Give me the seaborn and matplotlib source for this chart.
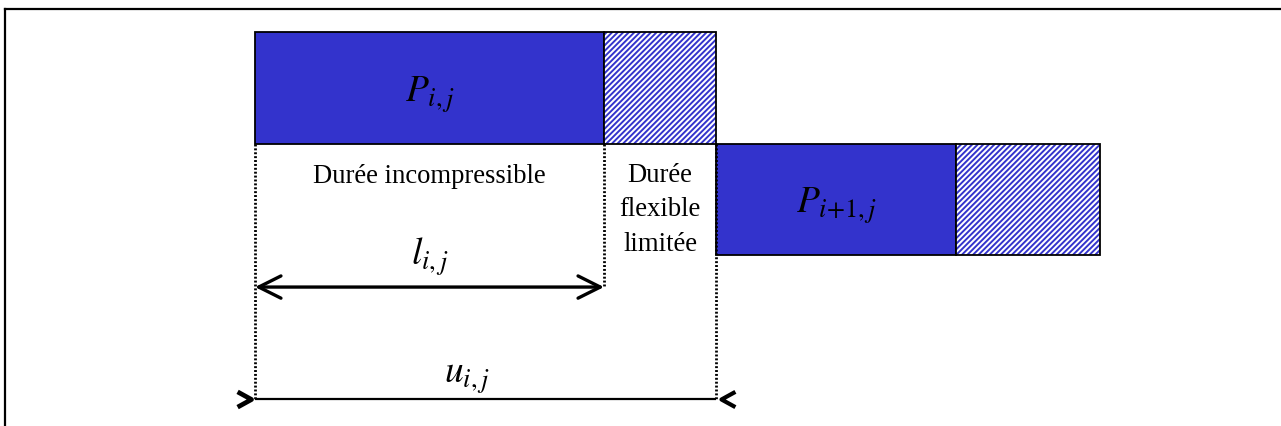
"""
Task durations: fixed (incompressible) part and limited flexible part
"""

import numpy as np
import matplotlib

matplotlib.use("Agg")
import matplotlib.pyplot as plt
from matplotlib.path import Path
from matplotlib.patches import FancyArrowPatch
import seaborn as sns

# task data (time units)
task_labels = [r"$P_{i,j}$", r"$P_{i{+}1,j}$"]
rows = [0, 1]
starts = [0.0, 4.61]
fixed = [3.49, 2.40]      # durée incompressible
flexible = [1.12, 1.44]   # durée flexible limitée

label_fixed = "Durée incompressible"
label_flex = "Durée\nflexible\nlimitée"
label_l = r"$l_{i,j}$"
label_u = r"$u_{i,j}$"

BLUE = "#3333cc"

sns.set_style("white")
plt.rcParams["font.family"] = ["Liberation Serif", "DejaVu Serif"]
plt.rcParams["mathtext.fontset"] = "stix"
plt.rcParams["text.color"] = "black"
plt.rcParams["hatch.linewidth"] = 1.4

starts = np.array(starts)
fixed = np.array(fixed)
flexible = np.array(flexible)
ends_fixed = starts + fixed
ends_flex = ends_fixed + flexible

fig = plt.figure(figsize=(12.81, 4.27), dpi=100)
ax = fig.add_axes([5 / 1281, 0, 1276 / 1281, 417 / 427])
ax.set_xlim(-2.5, 10.26)
ax.set_ylim(3.031, -0.7085)
ax.set_xticks([])
ax.set_yticks([])
for side in ["right", "bottom"]:
    ax.spines[side].set_visible(False)
for side in ["top", "left"]:
    ax.spines[side].set_color("black")
    ax.spines[side].set_linewidth(1.6)

# bars
ax.barh(rows, fixed, left=starts, height=1, color=BLUE,
        edgecolor="black", linewidth=1.3, zorder=2)
ax.barh(rows, flexible, left=ends_fixed, height=1, color="white",
        edgecolor=BLUE, hatch="//////", linewidth=0, zorder=2)
ax.barh(rows, flexible, left=ends_fixed, height=1, fill=False,
        edgecolor="black", linewidth=1.3, zorder=3)

for y, x, lab in zip(rows, starts + fixed / 2, task_labels):
    ax.text(x, y + 0.05, lab, ha="center", va="center", fontsize=27, zorder=5)

# dimension lines
l_y = 1.785
u_y = 2.789
dots = (0, (0.7, 0.7))
ax.vlines([starts[0], ends_flex[0]], 0.5, u_y, colors="black",
          linestyles=[dots], linewidth=2.0, zorder=4)
ax.vlines(ends_fixed[0], 0.5, l_y, colors="black",
          linestyles=[dots], linewidth=2.0, zorder=4)

ax.text(starts[0] + fixed[0] / 2, 0.843, label_fixed, ha="center",
        va="baseline", fontsize=19.2)
ax.text(ends_fixed[0] + flexible[0] / 2, 1.085, label_flex, ha="center",
        va="center", fontsize=19.2, linespacing=1.5)

arrow = FancyArrowPatch((starts[0], l_y), (ends_fixed[0], l_y),
                        arrowstyle="<->,head_length=16,head_width=8",
                        mutation_scale=1, lw=2.4, color="black",
                        shrinkA=0, shrinkB=0, zorder=5)
ax.add_patch(arrow)
ax.text(starts[0] + fixed[0] / 2, 1.578, label_l, ha="center",
        va="baseline", fontsize=27)

ax.hlines(u_y, starts[0], ends_flex[0], colors="black", linewidth=1.6)
right_chev = Path([(-1, -0.55), (0, 0), (-1, 0.55)])
left_chev = Path([(1, -0.55), (0, 0), (1, 0.55)])
ax.plot([starts[0] - 0.04], [u_y], marker=right_chev, ms=20, mew=3.4,
        mfc="none", mec="black", ls="none")
ax.plot([ends_flex[0] + 0.05], [u_y], marker=left_chev, ms=20, mew=3.0,
        mfc="none", mec="black", ls="none")
ax.text(2.12, 2.632, label_u, ha="center", va="baseline", fontsize=27)

fig.savefig("out.png", dpi=100)
plt.close(fig)
